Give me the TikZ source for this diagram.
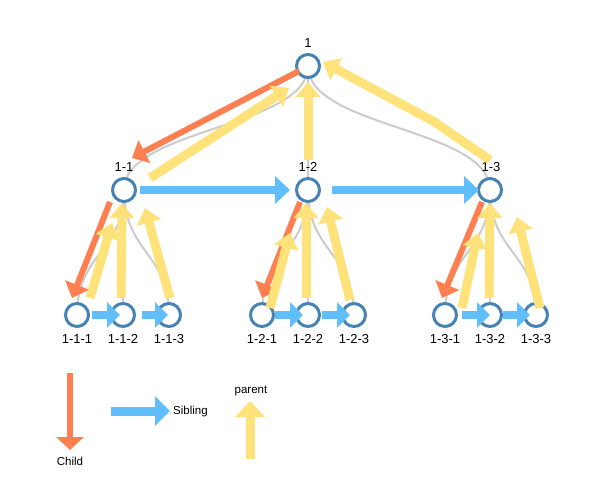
\documentclass[tikz,border=0pt]{standalone}
\usepackage{fontspec}
\setmainfont{Liberation Sans}
\usetikzlibrary{arrows.meta,calc}
\definecolor{orangeC}{RGB}{255,127,80}
\definecolor{blueC}{RGB}{96,190,250}
\definecolor{yellowC}{RGB}{255,226,122}
\definecolor{nodeC}{RGB}{70,130,180}
\definecolor{linkC}{RGB}{204,204,204}
\tikzset{
  treenode/.style={circle,draw=nodeC,line width=3pt,fill=white,minimum size=23pt,inner sep=0pt},
  lab/.style={inner sep=0pt,font=\fontsize{13}{15}\selectfont},
  leglab/.style={inner sep=0pt,font=\fontsize{11.5}{13}\selectfont},
  link/.style={draw=linkC,line width=2pt},
  childarrow/.style={draw=orangeC,line width=6pt,-{Triangle[length=14pt,width=25pt]},orangeC},
  parentarrow/.style={draw=yellowC,line width=9pt,-{Triangle[length=15pt,width=24pt]},yellowC},
  sibarrow/.style={draw=blueC,line width=8pt,-{Triangle[length=15pt,width=27pt]},blueC},
  sibsmall/.style={draw=blueC,line width=8pt,-{Triangle[length=13pt,width=25pt]},blueC},
}
\begin{document}
\begin{tikzpicture}[x=1pt,y=-1pt]
\useasboundingbox[fill=white] (0,0) rectangle (611,482);
% node positions
\coordinate (p1) at (308,66);
\coordinate (p11) at (124,190);
\coordinate (p12) at (308,190);
\coordinate (p13) at (490,190);
\coordinate (p111) at (77,315);
\coordinate (p112) at (123,315);
\coordinate (p113) at (169,315);
\coordinate (p121) at (262,315);
\coordinate (p122) at (308,315);
\coordinate (p123) at (354,315);
\coordinate (p131) at (445,315);
\coordinate (p132) at (490,315);
\coordinate (p133) at (536,315);
% gray links (d3 diagonal)
\foreach \s/\t/\m in {p1/p11/128,p1/p12/128,p1/p13/128,
  p11/p111/252.5,p11/p112/252.5,p11/p113/252.5,
  p12/p121/252.5,p12/p122/252.5,p12/p123/252.5,
  p13/p131/252.5,p13/p132/252.5,p13/p133/252.5}{
  \draw[link] (\s) .. controls (\s |- 0,\m) and (\t |- 0,\m) .. (\t);
}
% nodes
\node[treenode] (n1) at (p1) {};
\node[treenode] (n11) at (p11) {};
\node[treenode] (n12) at (p12) {};
\node[treenode] (n13) at (p13) {};
\node[treenode] (n111) at (p111) {};
\node[treenode] (n112) at (p112) {};
\node[treenode] (n113) at (p113) {};
\node[treenode] (n121) at (p121) {};
\node[treenode] (n122) at (p122) {};
\node[treenode] (n123) at (p123) {};
\node[treenode] (n131) at (p131) {};
\node[treenode] (n132) at (p132) {};
\node[treenode] (n133) at (p133) {};
% labels
\node[lab] (l1) at (308,43) {1};
\node[lab] (l11) at (124,167) {1-1};
\node[lab] (l12) at (308,167) {1-2};
\node[lab] (l13) at (491,167) {1-3};
\node[lab] (l111) at (77,339) {1-1-1};
\node[lab] (l112) at (123,339) {1-1-2};
\node[lab] (l113) at (169,339) {1-1-3};
\node[lab] (l121) at (262,339) {1-2-1};
\node[lab] (l122) at (308,339) {1-2-2};
\node[lab] (l123) at (354,339) {1-2-3};
\node[lab] (l131) at (445,339) {1-3-1};
\node[lab] (l132) at (490,339) {1-3-2};
\node[lab] (l133) at (536,339) {1-3-3};
% child arrows
\draw[childarrow] ($(n1)+(-9,5)$) -- ($(n11)+(8,-32)$);
\draw[childarrow] ($(n11)+(-14,12)$) -- ($(n111)+(-5,-17)$);
\draw[childarrow] ($(n12)+(-8,12)$) -- ($(n121)+(0,-17)$);
\draw[childarrow] ($(n13)+(-8,12)$) -- ($(n131)+(-3,-17)$);
% parent arrows
\draw[parentarrow] ($(n11)+(26,-12)$) -- ($(n1)+(-19,22)$);
\draw[parentarrow] ($(n12)+(0,-30)$) -- ($(n1)+(0,16)$);
\draw[parentarrow] ($(n13)+(0,-30)$) -- ($(n1)+(125,55)$) -- ($(n1)+(15,-4)$);
\draw[parentarrow] ($(n111)+(13,-17)$) -- ($(n11)+(-12,33)$);
\draw[parentarrow] ($(n112)+(-2,-17)$) -- ($(n11)+(-2,13)$);
\draw[parentarrow] ($(n113)+(1,-17)$) -- ($(n11)+(21,18)$);
\draw[parentarrow] ($(n121)+(8,-7)$) -- ($(n12)+(-18,43)$);
\draw[parentarrow] ($(n122)+(-2,-17)$) -- ($(n12)+(-2,13)$);
\draw[parentarrow] ($(n123)+(-4,-15)$) -- ($(n12)+(19,17)$);
\draw[parentarrow] ($(n131)+(17,-7)$) -- ($(n13)+(-12,43)$);
\draw[parentarrow] ($(n132)+(-1,-17)$) -- ($(n13)+(0,13)$);
\draw[parentarrow] ($(n133)+(4,-7)$) -- ($(n13)+(27,27)$);
% sibling arrows
\draw[sibarrow] ($(n11)+(16,0)$) -- ($(n12)+(-18,0)$);
\draw[sibarrow] ($(n12)+(24,0)$) -- ($(n13)+(-11,0)$);
\draw[sibsmall] ($(n111)+(15,0)$) -- ($(n112)+(-3,0)$);
\draw[sibsmall] ($(n112)+(19,0)$) -- ($(n113)+(-1,0)$);
\draw[sibsmall] ($(n121)+(13,0)$) -- ($(n122)+(-5,0)$);
\draw[sibsmall] ($(n122)+(14,0)$) -- ($(n123)+(-4,0)$);
\draw[sibsmall] ($(n131)+(17,0)$) -- ($(n132)+(0,0)$);
\draw[sibsmall] ($(n132)+(13,0)$) -- ($(n133)+(-6,0)$);
% legend
\coordinate (cA) at (70,373);
\coordinate (cB) at (70,450);
\draw[draw=orangeC,line width=6pt,-{Triangle[length=13pt,width=27pt]},orangeC] (cA) -- (cB);
\node[leglab] (lchild) at (70,461) {Child};
\coordinate (sA) at (111,411);
\coordinate (sB) at (170,411);
\draw[draw=blueC,line width=9pt,-{Triangle[length=15pt,width=29pt]},blueC] (sA) -- (sB);
\node[leglab,anchor=west] (lsib) at (173,412) {Sibling};
\coordinate (pA) at (250,459);
\coordinate (pB) at (250,401);
\draw[draw=yellowC,line width=9pt,-{Triangle[length=16pt,width=29pt]},yellowC] (pA) -- (pB);
\node[leglab] (lpar) at (251,391) {parent};
\end{tikzpicture}
\end{document}
